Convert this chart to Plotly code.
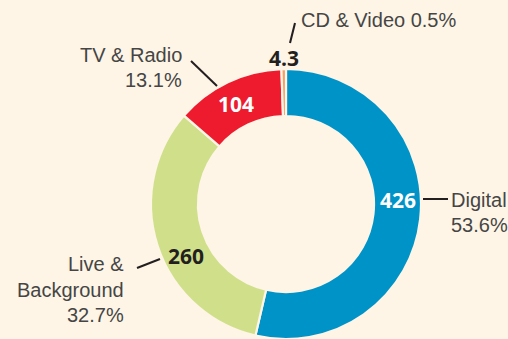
import plotly.graph_objects as go

# Revenue by segment
categories = ["Digital", "Live & Background", "TV & Radio", "CD & Video"]
values = [426, 260, 104, 4.3]
shares = ["53.6%", "32.7%", "13.1%", "0.5%"]

colors = ["#0093C8", "#D0E08A", "#EE1B2E", "#F3A066"]
value_colors = ["#FFFFFF", "#231F20", "#FFFFFF", "#231F20"]
bg = "#FEF5E6"
label_color = "#454545"
dark = "#231F20"

W, H = 508, 339
CX, CY, R = 286, 204, 135  # ring centre and outer radius, in px


def px(x, y):
    return x / W, 1 - y / H


fig = go.Figure()
fig.add_trace(go.Pie(
    labels=categories,
    values=values,
    sort=False,
    direction="clockwise",
    rotation=0,
    hole=0.652,
    marker=dict(colors=colors, line=dict(color=bg, width=2.2)),
    textinfo="none",
    hoverinfo="label+value+percent",
    showlegend=False,
    domain=dict(x=[(CX - R) / W, (CX + R) / W], y=[(H - CY - R) / H, (H - CY + R) / H]),
))

# Slice values
value_pos = [(398, 200), (186, 256), (236, 104), (284, 58)]
for v, c, (x, y) in zip(values, value_colors, value_pos):
    ax, ay = px(x, y)
    fig.add_annotation(x=ax, y=ay, xref="paper", yref="paper", text=f"{v:g}",
                       showarrow=False, xanchor="center", yanchor="middle",
                       font=dict(family="Open Sans", size=21, color=c, weight="bold"))

# Category labels, one annotation per text line
label_font = dict(family="Liberation Sans", size=20, color=label_color)
label_rows = [
    (categories[0], 449, 200, "left"),
    (shares[0], 449, 225, "left"),
    ("Live &", 126, 264, "right"),
    ("Background", 126, 290, "right"),
    (shares[1], 126, 315, "right"),
    (categories[2], 184, 55, "right"),
    (shares[2], 184, 80, "right"),
    (f"{categories[3]} {shares[3]}", 299, 20, "left"),
]
for text, x, y, anchor in label_rows:
    ax, ay = px(x, y)
    fig.add_annotation(x=ax, y=ay, xref="paper", yref="paper", text=text,
                       showarrow=False, xanchor=anchor, yanchor="middle",
                       font=label_font)

# Leader lines from the ring to each label
leaders = [
    (423, 199, 448, 199),
    (137, 268, 160, 259),
    (191, 61, 217, 86),
    (290, 43, 295, 23),
]
for x0, y0, x1, y1 in leaders:
    a0, b0 = px(x0, y0)
    a1, b1 = px(x1, y1)
    fig.add_shape(type="line", xref="paper", yref="paper",
                  x0=a0, y0=b0, x1=a1, y1=b1,
                  line=dict(color=dark, width=2))

fig.update_layout(
    width=W, height=H,
    margin=dict(l=0, r=0, t=0, b=0),
    paper_bgcolor=bg,
    plot_bgcolor=bg,
)

fig.write_html("out.html")
